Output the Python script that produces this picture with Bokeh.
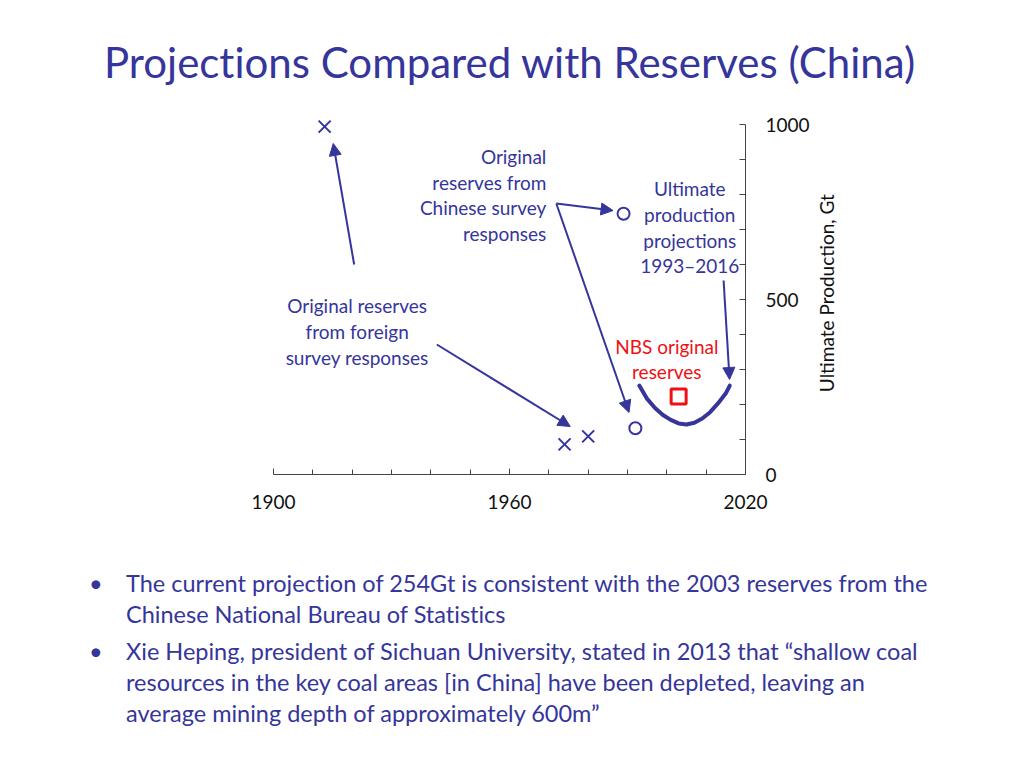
import math
from bokeh.plotting import figure
from bokeh.models import Range1d, FixedTicker, Label, Arrow, NormalHead, Div
from bokeh.layouts import column, row
from bokeh.embed import file_html
from bokeh.resources import INLINE

# ---------------- data ----------------
foreign_years = [1913, 1974, 1980]
foreign_values = [994, 86, 109]

chinese_years = [1989, 1992]
chinese_values = [745, 132]

nbs_years = [2003]
nbs_values = [223]

proj_years = [1993, 1995, 1997, 1999, 2001, 2003, 2005, 2007, 2009, 2011, 2013, 2015, 2016]
proj_values = [254, 216, 190, 170, 156, 146, 143, 148, 160, 178, 203, 232, 254]

x_ticks = [1900, 1960, 2020]
x_minor = [1910, 1920, 1930, 1940, 1950, 1970, 1980, 1990, 2000, 2010]
y_ticks = [0, 500, 1000]
y_minor = [100, 200, 300, 400, 600, 700, 800, 900]

title_text = "Projections Compared with Reserves (China)"
y_axis_title = "Ultimate Production, Gt"
bullet_lines = [
    ["The current projection of 254Gt is consistent with the 2003 reserves from the",
     "Chinese National Bureau of Statistics"],
    ["Xie Heping, president of Sichuan University, stated in 2013 that \u201cshallow coal",
     "resources in the key coal areas [in China] have been depleted, leaving an",
     "average mining depth of approximately 600m\u201d"],
]

BLUE = "#35359b"
RED = "#ee1111"
FONT = "Lato"

# ---------------- layout constants (page pixels) ----------------
W = 1008
TITLE_H = 90
FIG_TOP = TITLE_H
FRAME_L, FRAME_R = 273, 747
Y0_PX, Y1000_PX = 474, 124
Y_TOP = 1060
FRAME_T = Y0_PX - (Y0_PX - Y1000_PX) * Y_TOP / 1000.0
FIG_BOTTOM = 540
MAIN_W = 812

p = figure(width=MAIN_W, height=FIG_BOTTOM - FIG_TOP,
           x_range=Range1d(1900, 2020), y_range=Range1d(0, Y_TOP),
           y_axis_location="right", output_backend="svg", toolbar_location=None,
           min_border_left=FRAME_L, min_border_right=MAIN_W - FRAME_R,
           min_border_top=int(round(FRAME_T - FIG_TOP)),
           min_border_bottom=FIG_BOTTOM - Y0_PX)
p.outline_line_color = None
p.xgrid.visible = False
p.ygrid.visible = False
p.background_fill_color = "white"
p.border_fill_color = "white"

def px2x(px):
    return 1900 + (px - FRAME_L) * 120.0 / (FRAME_R - FRAME_L)

def py2y(py):
    return (Y0_PX - py) * 1000.0 / (Y0_PX - Y1000_PX)

xa = p.xaxis[0]
xa.ticker = FixedTicker(ticks=x_ticks, minor_ticks=x_minor)
xa.axis_line_color = "#444444"
xa.major_tick_line_color = "#444444"
xa.minor_tick_line_color = "#444444"
xa.major_tick_in = 6
xa.major_tick_out = 0
xa.minor_tick_in = 5
xa.minor_tick_out = 0
xa.major_label_standoff = 20
xa.major_label_text_font = FONT
xa.major_label_text_font_size = "19px"
xa.major_label_text_color = "#111111"

ya = p.yaxis[0]
ya.ticker = FixedTicker(ticks=y_ticks, minor_ticks=y_minor)
ya.bounds = (0, 1000)
ya.axis_line_color = "#444444"
ya.major_tick_line_color = "#444444"
ya.minor_tick_line_color = "#444444"
ya.major_tick_in = 6
ya.major_tick_out = 0
ya.minor_tick_in = 6
ya.minor_tick_out = 0
ya.major_label_standoff = 20
ya.major_label_text_font = FONT
ya.major_label_text_font_size = "19px"
ya.major_label_text_color = "#111111"

# ---------------- marks ----------------
p.line(proj_years, proj_values, line_color=BLUE, line_width=4, line_cap="round", line_join="round")
p.scatter(foreign_years, foreign_values, marker="x", size=17, line_color=BLUE, line_width=2)
p.scatter(chinese_years, chinese_values, marker="circle", size=12, fill_color=None,
          line_color=BLUE, line_width=2)
p.scatter(nbs_years, nbs_values, marker="square", size=15, fill_color=None,
          line_color=RED, line_width=3)

# ---------------- arrows ----------------
arrows = [
    ((354, 264), (333, 143)),
    ((437, 344), (571, 426)),
    ((557, 203), (614, 210)),
    ((557, 203), (630, 412)),
    ((725, 280), (731, 379)),
]
for (sx, sy), (ex, ey) in arrows:
    p.add_layout(Arrow(end=NormalHead(size=12, fill_color=BLUE, line_color=BLUE, line_width=1),
                       x_start=px2x(sx), y_start=py2y(sy), x_end=px2x(ex), y_end=py2y(ey),
                       line_color=BLUE, line_width=2))

# ---------------- in-chart text ----------------
def add_text(text, px, py, align="center", color=BLUE, size="19px"):
    p.add_layout(Label(x=px2x(px), y=py2y(py), text=text, text_align=align,
                       text_baseline="middle", text_color=color, text_font=FONT,
                       text_font_size=size))

for t, py in zip(["Original reserves", "from foreign", "survey responses"], [305, 331, 357]):
    add_text(t, 357, py)
for t, py in zip(["Original", "reserves from", "Chinese survey", "responses"], [156, 182, 207, 233]):
    add_text(t, 547, py, align="right")
for t, py in zip(["Ultimate", "production", "projections", "1993\u20132016"], [188, 214, 240, 265]):
    add_text(t, 691, py)
for t, py in zip(["NBS original", "reserves"], [346, 371]):
    add_text(t, 668, py, color=RED)

# ---------------- y-axis title (separate strip to the right) ----------------
side = figure(width=W - MAIN_W, height=FIG_BOTTOM - FIG_TOP,
              x_range=Range1d(MAIN_W, W), y_range=Range1d(FIG_BOTTOM, FIG_TOP),
              x_axis_location=None, y_axis_location=None,
              output_backend="svg", toolbar_location=None,
              min_border=0, min_border_left=0, min_border_right=0,
              min_border_top=0, min_border_bottom=0)
side.outline_line_color = None
side.xgrid.visible = False
side.ygrid.visible = False
side.add_layout(Label(x=826, y=320, text=y_axis_title, angle=math.pi / 2,
                      text_align="center", text_baseline="middle", text_color="#111111",
                      text_font=FONT, text_font_size="19px"))

# ---------------- title and bullets ----------------
title_html = (
    f'<div style="position:relative;width:{W}px;height:{TITLE_H}px;">'
    f'<div style="position:absolute;left:104px;top:37px;line-height:50px;height:50px;'
    f'font-family:{FONT};font-size:42px;color:{BLUE};white-space:nowrap;'
    f'font-variant-ligatures:none;">{title_text}</div></div>'
)
title_div = Div(text=title_html, width=W, height=TITLE_H, margin=0)

BUL_H = 760 - FIG_BOTTOM
line_ys = [[584, 615], [652, 683, 714]]
parts = [f'<div style="position:relative;width:{W}px;height:{BUL_H}px;font-family:{FONT};'
         f'font-size:23.5px;color:{BLUE};font-variant-ligatures:none;">']
LH = 30
for lines, ys in zip(bullet_lines, line_ys):
    top = ys[0] - 1 - FIG_BOTTOM - LH / 2
    parts.append(f'<div style="position:absolute;left:89px;top:{top}px;line-height:{LH}px;">\u2022</div>')
    for t, py in zip(lines, ys):
        top = py - 1 - FIG_BOTTOM - LH / 2
        parts.append(f'<div style="position:absolute;left:126px;top:{top}px;line-height:{LH}px;'
                     f'white-space:nowrap;">{t}</div>')
parts.append('</div>')
bullet_div = Div(text="".join(parts), width=W, height=BUL_H, margin=0)

layout = column(title_div, row(p, side, spacing=0), bullet_div, spacing=0)
open("out.html", "w").write(file_html(layout, INLINE))
